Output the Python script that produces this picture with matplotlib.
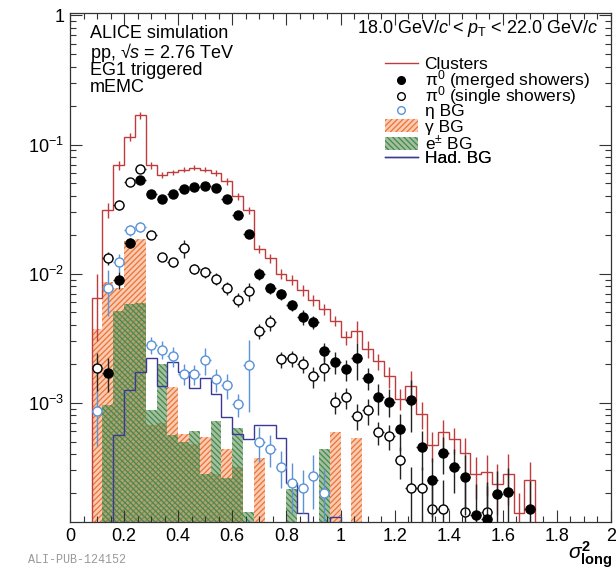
import numpy as np
import matplotlib
matplotlib.use('Agg')
import matplotlib.pyplot as plt
from matplotlib.lines import Line2D
from matplotlib.patches import Patch
from matplotlib.ticker import MultipleLocator, FixedLocator, LogLocator, NullFormatter, FuncFormatter

plt.rcParams['font.family'] = ['Liberation Sans', 'DejaVu Sans']
plt.rcParams['mathtext.fontset'] = 'custom'
plt.rcParams['mathtext.rm'] = 'Liberation Sans'
plt.rcParams['mathtext.it'] = 'Liberation Sans:italic'
plt.rcParams['mathtext.bf'] = 'Liberation Sans:bold'
plt.rcParams['hatch.linewidth'] = 0.9

BIN_W = 0.04

# Clusters (all), bin centres / counts / stat. errors
clus_x = [0.10, 0.14, 0.18, 0.22, 0.26, 0.30, 0.34, 0.38, 0.42, 0.46, 0.50, 0.54, 0.58, 0.62,
          0.66, 0.70, 0.74, 0.78, 0.82, 0.86, 0.90, 0.94, 0.98, 1.02, 1.06, 1.10, 1.14, 1.18,
          1.22, 1.26, 1.30, 1.34, 1.38, 1.42, 1.46, 1.50, 1.54, 1.58, 1.62, 1.66, 1.70]
clus_y = [0.0065, 0.031, 0.069, 0.115, 0.169, 0.069, 0.058, 0.061, 0.064, 0.066, 0.064, 0.060,
          0.052, 0.040, 0.031, 0.0156, 0.0131, 0.0100, 0.0089, 0.0074, 0.0062, 0.0053, 0.0043,
          0.0032, 0.0036, 0.0026, 0.0021, 0.0016, 0.00107, 0.00135, 0.00082, 0.00047, 0.00059,
          0.00052, 0.00041, 0.00028, 0.00029, 0.000235, 0.00028, 0.00014, 0.00025]
clus_err = [0.0035, 0.004, 0.006, 0.008, 0.01, 0.004, 0.003, 0.003, 0.003, 0.003, 0.003, 0.003,
            0.003, 0.0025, 0.002, 0.0012, 0.001, 0.0009, 0.0008, 0.0007, 0.0006, 0.0005, 0.0004,
            0.0004, 0.0007, 0.0004, 0.0003, 0.0003, 0.0002, 0.0004, 0.0002, 0.00012, 0.00015,
            0.00012, 0.00012, 0.0001, 0.0001, 0.0001, 0.00012, 0.00006, 0.0001]

# pi0 merged showers
merg_x = [0.14, 0.18, 0.22, 0.26, 0.30, 0.34, 0.38, 0.42, 0.46, 0.50, 0.54, 0.58, 0.62, 0.66,
          0.70, 0.74, 0.78, 0.82, 0.86, 0.90, 0.94, 0.98, 1.02, 1.06, 1.10, 1.14, 1.18, 1.22,
          1.26, 1.30, 1.34, 1.38, 1.42, 1.46, 1.50, 1.54, 1.58, 1.62, 1.70]
merg_y = [0.0017, 0.0089, 0.0174, 0.053, 0.0417, 0.0377, 0.0417, 0.045, 0.047, 0.048, 0.046,
          0.038, 0.0287, 0.0204, 0.0100, 0.0077, 0.0069, 0.0057, 0.0046, 0.0042, 0.0025, 0.00207,
          0.00181, 0.0022, 0.00156, 0.0011, 0.00102, 0.00062, 0.00104, 0.00045, 0.00025, 0.00041,
          0.00032, 0.000265, 0.000134, 0.000125, 0.000197, 0.000203, 0.000149]
merg_err = [0.0005, 0.0013, 0.0015, 0.003, 0.002, 0.002, 0.002, 0.002, 0.002, 0.002, 0.002,
            0.002, 0.0018, 0.0015, 0.001, 0.0008, 0.0007, 0.0006, 0.0006, 0.0005, 0.0004, 0.0004,
            0.00035, 0.0007, 0.0003, 0.0003, 0.00025, 0.0002, 0.00045, 0.00015, 0.00012, 0.00013,
            0.00012, 0.00013, 0.0001, 0.0001, 0.0001, 0.00011, 0.0001]

# pi0 single showers
sing_x = [0.10, 0.14, 0.18, 0.22, 0.26, 0.30, 0.34, 0.38, 0.42, 0.46, 0.50, 0.54, 0.58, 0.62,
          0.66, 0.70, 0.74, 0.78, 0.82, 0.86, 0.90, 0.94, 0.98, 1.02, 1.06, 1.10, 1.14, 1.18,
          1.22, 1.26, 1.30, 1.34, 1.38, 1.46, 1.54]
sing_y = [0.00184, 0.0131, 0.0343, 0.0514, 0.065, 0.020, 0.0135, 0.0123, 0.0158, 0.0109, 0.0103,
          0.0091, 0.0077, 0.0063, 0.0073, 0.0036, 0.0042, 0.00217, 0.0022, 0.0020, 0.0016,
          0.00186, 0.00101, 0.0011, 0.00079, 0.00087, 0.00059, 0.00055, 0.000357, 0.00022,
          0.00022, 0.00015, 0.00015, 0.000142, 0.000142]
sing_err = [0.0006, 0.0015, 0.003, 0.003, 0.003, 0.0015, 0.001, 0.001, 0.0025, 0.001, 0.001,
            0.001, 0.0009, 0.0008, 0.0012, 0.0005, 0.0006, 0.0003, 0.0003, 0.0003, 0.0003, 0.0004,
            0.0002, 0.0002, 0.00018, 0.0002, 0.00012, 0.00012, 0.0001, 0.0001, 0.0001, 0.0001,
            0.0001, 0.0001, 0.0001]

# eta background
eta_x = [0.10, 0.14, 0.18, 0.22, 0.26, 0.30, 0.34, 0.38, 0.42, 0.46, 0.50, 0.54, 0.58, 0.62,
         0.66, 0.70, 0.74, 0.78, 0.82, 0.86, 0.90, 0.94]
eta_y = [0.00086, 0.0077, 0.0123, 0.0217, 0.023, 0.0028, 0.00258, 0.00229, 0.00168, 0.00166,
         0.00215, 0.00152, 0.00136, 0.00097, 0.00195, 0.000495, 0.00044, 0.00032, 0.00024,
         0.00022, 0.00027, 0.00020]
eta_err = [0.0004, 0.003, 0.002, 0.002, 0.002, 0.0004, 0.0004, 0.0004, 0.0003, 0.0003, 0.0005,
           0.0003, 0.0003, 0.0002, 0.0011, 0.00015, 0.00012, 0.0001, 0.0001, 0.00008, 0.00012,
           0.0001]

# gamma background
gam_x = [0.10, 0.14, 0.18, 0.22, 0.26, 0.30, 0.34, 0.38, 0.42, 0.46, 0.50, 0.54, 0.58, 0.62,
         0.70, 0.98, 1.06]
gam_y = [0.00375, 0.0086, 0.0078, 0.018, 0.0185, 0.00067, 0.00069, 0.00132, 0.000575, 0.000475,
         0.00054, 0.00028, 0.00044, 0.00032, 0.000375, 0.00059, 0.00053]

# e+- background
ele_x = [0.14, 0.18, 0.22, 0.26, 0.30, 0.34, 0.38, 0.42, 0.46, 0.50, 0.54, 0.58, 0.62, 0.66,
         0.82, 0.94]
ele_y = [0.00096, 0.0051, 0.0058, 0.0059, 0.00087, 0.0020, 0.00056, 0.00050, 0.00060, 0.00028,
         0.00072, 0.00026, 0.00064, 0.000143, 0.000215, 0.00044]

# hadronic background
had_x = [0.18, 0.22, 0.26, 0.30, 0.34, 0.38, 0.42, 0.46, 0.50, 0.54, 0.58, 0.62, 0.66, 0.70,
         0.74, 0.78, 0.82, 0.86, 0.90, 0.94, 0.98]
had_y = [0.00056, 0.00125, 0.00173, 0.0022, 0.00135, 0.00207, 0.00173, 0.0013, 0.00155,
         0.00117, 0.00077, 0.000575, 0.00052, 0.00067, 0.00067, 0.00053, 0.00024, 0.00014, 0,
         0, 0.00013]

RED = '#bf3c3c'
HADC = '#3a3a96'
ETAC = '#5a93d8'
ORF, ORH = (0.97, 0.60, 0.40, 0.5), '#ea7435'
GRF, GRH = (0.36, 0.55, 0.30, 0.55), '#3f8a4f'
FLOOR = 1e-7


def edges_from_centres(xc):
    xc = np.asarray(xc)
    return np.append(xc - BIN_W / 2, xc[-1] + BIN_W / 2)


fig = plt.figure(figsize=(6.16, 5.76), dpi=100)
ax = fig.add_axes([70 / 616, 1 - 522 / 576, 541 / 616, 509 / 576])
ax.set_yscale('log')

ax.bar(gam_x, gam_y, width=BIN_W, facecolor=ORF, edgecolor=ORH, hatch='//////', linewidth=0,
       zorder=1)
ax.bar(ele_x, ele_y, width=BIN_W, facecolor=GRF, edgecolor=GRH, hatch='\\\\\\\\\\\\', linewidth=0,
       zorder=1.1)
ax.stairs(np.maximum(had_y, FLOOR), edges_from_centres(had_x), baseline=FLOOR, color=HADC,
          linewidth=1.0, zorder=2)
ax.stairs(clus_y, edges_from_centres(clus_x), baseline=FLOOR, color=RED, linewidth=1.0, zorder=3)
ax.errorbar(clus_x, clus_y, yerr=clus_err, fmt='none', ecolor=RED, elinewidth=1.0, zorder=3)

ax.errorbar(eta_x, eta_y, yerr=eta_err, xerr=0.02, fmt='o', ms=6.5, mfc='white', mec=ETAC,
            mew=1.0, ecolor=ETAC, elinewidth=1.0, zorder=4)
ax.errorbar(sing_x, sing_y, yerr=sing_err, xerr=0.02, fmt='o', ms=6.5, mfc='white', mec='black',
            mew=1.0, ecolor='#222222', elinewidth=1.0, zorder=5)
ax.errorbar(merg_x, merg_y, yerr=merg_err, xerr=0.02, fmt='o', ms=6.5, color='black',
            ecolor='#222222', elinewidth=1.0, zorder=6)

# axes ranges / ticks, ROOT-like
ax.set_xlim(0, 2)
ax.set_ylim(1.19e-4, 1.045)
ax.xaxis.set_major_locator(MultipleLocator(0.2))
ax.xaxis.set_minor_locator(MultipleLocator(0.05))
ax.xaxis.set_major_formatter(FuncFormatter(lambda v, p: '%g' % round(v, 2)))
ax.yaxis.set_major_locator(FixedLocator([1e-3, 1e-2, 1e-1, 1]))
ax.set_yticklabels([r'$10^{-3}$', r'$10^{-2}$', r'$10^{-1}$', '1'])
ax.yaxis.set_minor_locator(LogLocator(base=10, subs=np.arange(2, 10)))
ax.yaxis.set_minor_formatter(NullFormatter())
ax.tick_params(which='both', direction='in', top=True, right=True, labelsize=13, width=0.8,
               colors='#333333', labelcolor='black')
ax.tick_params(which='major', length=8.5, pad=4)
ax.tick_params(which='minor', length=4.5)
for s in ax.spines.values():
    s.set_linewidth(0.9)
    s.set_color('#333333')

# labels
fs = 13
ax.text(0.037, 0.951, 'ALICE simulation', transform=ax.transAxes, fontsize=fs, va='baseline')
ax.text(0.037, 0.912, r'pp, √$s$ = 2.76 TeV', transform=ax.transAxes, fontsize=fs,
        va='baseline')
ax.text(0.037, 0.878, 'EG1 triggered', transform=ax.transAxes, fontsize=fs, va='baseline')
ax.text(0.037, 0.845, 'mEMC', transform=ax.transAxes, fontsize=fs, va='baseline')
ax.text(0.976, 0.961, r'18.0 GeV/$c$ < $p_{\rm T}$ < 22.0 GeV/$c$', transform=ax.transAxes,
        fontsize=fs, va='baseline', ha='right')

fig.text(0.995, 0.029, r'$\sigma^{\mathbf{2}}_{\mathbf{long}}$', fontsize=15, ha='right',
         va='baseline')
fig.text(0.045, 0.022, 'ALI-PUB-124152', fontsize=8.5, family='Liberation Mono', color='#9a9a9a',
         va='baseline')

# legend, one row at a time to get the tight ROOT spacing
lfs = 12.5
entries = [
    (Line2D([], [], color=RED, lw=1.0), 'Clusters'),
    (Line2D([], [], marker='o', ls='none', color='black', ms=5.5), 'π$^{0}$ (merged showers)'),
    (Line2D([], [], marker='o', ls='none', mfc='white', mec='black', ms=5.5),
     'π$^{0}$ (single showers)'),
    (Line2D([], [], marker='o', ls='none', mfc='white', mec=ETAC, ms=5.5), 'η BG'),
    (Patch(facecolor=ORF, edgecolor=ORH, hatch='//////', lw=0), 'γ BG'),
    (Patch(facecolor=GRF, edgecolor=GRH, hatch='\\\\\\\\\\\\', lw=0), r'e$^{\pm}$ BG'),
    (Line2D([], [], color=HADC, lw=1.0), 'Had. BG'),
]
row_px = [64, 80, 96, 111, 127, 143, 158]
for (h, lab), ypx in zip(entries, row_px):
    leg = ax.legend([h], [lab], loc='center left', bbox_to_anchor=(0.582, 1 - (ypx - 13) / 509),
                    frameon=False, fontsize=lfs, handlelength=1.9, handleheight=0.7,
                    handletextpad=0.39, borderpad=0, borderaxespad=0)
    ax.add_artist(leg)

fig.savefig('out.png', dpi=100)
